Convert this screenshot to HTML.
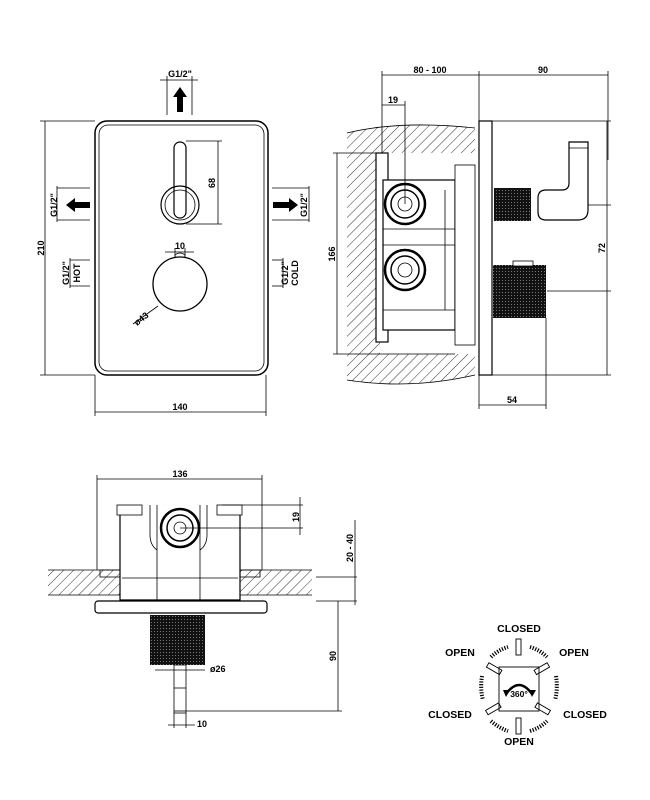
<!DOCTYPE html>
<html><head><meta charset="utf-8"><style>
html,body{margin:0;padding:0;background:#fff}
svg{display:block}
text{font-family:"Liberation Sans",sans-serif;font-weight:bold;fill:#000}
</style></head><body>
<svg width="650" height="800" viewBox="0 0 650 800" xmlns="http://www.w3.org/2000/svg">
<defs>
<pattern id="h" width="7" height="7" patternUnits="userSpaceOnUse" patternTransform="rotate(45)">
<line x1="0" y1="0" x2="0" y2="7" stroke="#000" stroke-width="0.8"/></pattern>
<pattern id="k" width="3" height="3" patternUnits="userSpaceOnUse">
<rect width="3" height="3" fill="#111"/><rect x="1" y="1" width="1" height="1" fill="#777"/></pattern>
</defs>
<g fill="none" stroke="#000" stroke-width="0.8">
<!-- FRONT VIEW -->
<rect x="95" y="121" width="173" height="254" rx="12" stroke-width="1.5"/>
<rect x="99" y="125" width="165" height="246" rx="9"/>
<!-- 210 -->
<line x1="45" y1="121" x2="45" y2="375"/><line x1="40" y1="121" x2="95" y2="121"/><line x1="40" y1="375" x2="95" y2="375"/>
<!-- 140 -->
<line x1="95" y1="412" x2="266" y2="412"/><line x1="95" y1="375" x2="95" y2="416"/><line x1="266" y1="375" x2="266" y2="416"/>
<!-- top G1/2 -->
<line x1="160" y1="80" x2="198" y2="80"/><line x1="167" y1="76" x2="167" y2="115"/><line x1="192" y1="76" x2="192" y2="115"/>
<!-- lever -->
<rect x="174" y="142" width="12" height="76" rx="6" stroke-width="1.2"/>
<circle cx="180" cy="205" r="19" stroke-width="1.2"/><circle cx="180" cy="205" r="15"/>
<line x1="186" y1="141" x2="222" y2="141"/><line x1="186" y1="224" x2="222" y2="224"/><line x1="218" y1="141" x2="218" y2="224"/>
<!-- knob -->
<circle cx="180" cy="284" r="27" stroke-width="1.3"/>
<path d="M175 258 V255 Q180 251 185 255 V258"/>
<line x1="165" y1="252" x2="194" y2="252"/><line x1="175" y1="248" x2="175" y2="258"/><line x1="185" y1="248" x2="185" y2="258"/>
<line x1="158" y1="306" x2="133" y2="324"/>
<!-- left G1/2 -->
<line x1="57" y1="188" x2="90" y2="188"/><line x1="57" y1="220" x2="90" y2="220"/><line x1="57" y1="186" x2="57" y2="222"/>
<line x1="70" y1="260" x2="90" y2="260"/><line x1="70" y1="286" x2="90" y2="286"/><line x1="70" y1="258" x2="70" y2="288"/>
<!-- right -->
<line x1="272" y1="188" x2="309" y2="188"/><line x1="272" y1="220" x2="309" y2="220"/><line x1="309" y1="186" x2="309" y2="222"/>
<line x1="272" y1="260" x2="283" y2="260"/><line x1="272" y1="286" x2="283" y2="286"/><line x1="283" y1="258" x2="283" y2="288"/>
</g>
<g fill="#000">
<polygon points="180,87 173,97 177,97 177,112 183,112 183,97 187,97"/>
<polygon points="66,205 75,198 75,202 90,202 90,208 75,208 75,212"/>
<polygon points="298,205 289,198 289,202 273,202 273,208 289,208 289,212"/>
</g>
<g font-size="9">
<text x="180" y="77" text-anchor="middle">G1/2"</text>
<text x="180" y="410" text-anchor="middle">140</text>
<text x="180" y="249" text-anchor="middle">10</text>
<text transform="translate(44,248) rotate(-90)" text-anchor="middle">210</text>
<text transform="translate(215,183) rotate(-90)" text-anchor="middle">68</text>
<text transform="translate(57,205) rotate(-90)" text-anchor="middle">G1/2"</text>
<text transform="translate(69,273) rotate(-90)" text-anchor="middle">G1/2"</text>
<text transform="translate(80,273) rotate(-90)" text-anchor="middle">HOT</text>
<text transform="translate(307,205) rotate(-90)" text-anchor="middle">G1/2"</text>
<text transform="translate(288,273) rotate(-90)" text-anchor="middle">G1/2"</text>
<text transform="translate(298,273) rotate(-90)" text-anchor="middle">COLD</text>
<text transform="translate(137,326) rotate(-38)">ø43</text>
</g>

<!-- SIDE VIEW -->
<path d="M347 133 Q400 120 475 128 L475 375 Q410 390 347 380 Z" fill="url(#h)" stroke="none"/>
<rect x="380" y="153" width="100" height="201" fill="#fff"/>
<g fill="none" stroke="#000" stroke-width="0.8">
<path d="M347 133 Q400 120 475 128" /><path d="M347 380 Q410 390 475 375"/>
<rect x="376" y="153" width="12" height="189" fill="#fff" stroke-width="1.2"/>
<rect x="383" y="180" width="72" height="150" fill="#fff" stroke-width="1.2"/>
<rect x="455" y="165" width="20" height="180" fill="#fff"/>
<line x1="445" y1="190" x2="445" y2="310"/><line x1="383" y1="229" x2="455" y2="229"/><line x1="383" y1="245" x2="455" y2="245"/>
<line x1="383" y1="310" x2="455" y2="310"/>
<circle cx="405" cy="204" r="20" stroke-width="2.5"/><circle cx="405" cy="204" r="14" stroke-width="1.5"/><circle cx="405" cy="204" r="7"/>
<circle cx="405" cy="270" r="20" stroke-width="2.5"/><circle cx="405" cy="270" r="14" stroke-width="1.5"/><circle cx="405" cy="270" r="7"/>
<rect x="479" y="121" width="13" height="254" stroke-width="1.2"/>
<path d="M569 142 H588 V210 Q588 220 578 220 H546 Q538 220 538 212 V198 Q538 190 546 190 H562 Q569 190 569 183 Z" stroke-width="1.2"/>
<line x1="569" y1="148" x2="588" y2="148"/>
<!-- dims -->
<line x1="382" y1="75" x2="479" y2="75"/><line x1="479" y1="75" x2="608" y2="75"/>
<line x1="382" y1="71" x2="382" y2="153"/><line x1="479" y1="71" x2="479" y2="121"/><line x1="608" y1="71" x2="608" y2="160"/>
<line x1="382" y1="105" x2="405" y2="105"/><line x1="405" y1="101" x2="405" y2="204"/>
<line x1="337" y1="153" x2="337" y2="354"/><line x1="333" y1="153" x2="376" y2="153"/><line x1="333" y1="354" x2="455" y2="354"/>
<line x1="607" y1="121" x2="607" y2="375"/><line x1="492" y1="121" x2="611" y2="121"/><line x1="492" y1="375" x2="611" y2="375"/>
<line x1="588" y1="205" x2="611" y2="205"/><line x1="547" y1="291" x2="611" y2="291"/>
<line x1="479" y1="405" x2="546" y2="405"/><line x1="479" y1="375" x2="479" y2="409"/><line x1="546" y1="318" x2="546" y2="409"/>
</g>
<rect x="494" y="188" width="37" height="33" fill="url(#k)"/>
<rect x="493" y="265" width="53" height="53" fill="url(#k)"/>
<rect x="513" y="261" width="20" height="5" fill="#fff" stroke="#000" stroke-width="0.8"/>
<g font-size="9">
<text x="430" y="73" text-anchor="middle">80 - 100</text>
<text x="543" y="73" text-anchor="middle">90</text>
<text x="393" y="103" text-anchor="middle">19</text>
<text x="512" y="403" text-anchor="middle">54</text>
<text transform="translate(335,254) rotate(-90)" text-anchor="middle">166</text>
<text transform="translate(605,248) rotate(-90)" text-anchor="middle">72</text>
</g>

<!-- BOTTOM VIEW -->
<rect x="48" y="570" width="75" height="25" fill="url(#h)"/>
<rect x="240" y="570" width="72" height="25" fill="url(#h)"/>
<g fill="none" stroke="#000" stroke-width="0.8">
<line x1="48" y1="570" x2="123" y2="570"/><line x1="48" y1="595" x2="123" y2="595"/>
<line x1="240" y1="570" x2="312" y2="570"/><line x1="240" y1="595" x2="312" y2="595"/>
<rect x="100" y="570" width="20" height="7"/><rect x="240" y="570" width="20" height="7"/>
<path d="M120 512 V600 H240 V512" fill="#fff" stroke-width="1.2"/>
<rect x="117" y="505" width="25" height="10" fill="#fff"/><rect x="217" y="505" width="25" height="10" fill="#fff"/>
<line x1="122" y1="578" x2="238" y2="578"/>
<line x1="157" y1="505" x2="157" y2="600"/><line x1="200" y1="505" x2="200" y2="600"/>
<path d="M150 505 V535 Q150 545 157 550"/><path d="M207 505 V535 Q207 545 200 550"/>
<circle cx="180" cy="528" r="19" stroke-width="2.5"/><circle cx="180" cy="528" r="13" stroke-width="1.5"/><circle cx="180" cy="528" r="6"/>
<rect x="95" y="601" width="172" height="12" rx="3" fill="#fff" stroke-width="1.2"/>
<path d="M172 665 Q172 660 165 655 M188 665 Q188 660 195 655"/>
<rect x="174" y="665" width="12" height="48" fill="#fff"/>
<line x1="174" y1="688" x2="186" y2="688"/><line x1="174" y1="711" x2="186" y2="711"/>
<!-- dims -->
<line x1="97" y1="479" x2="262" y2="479"/><line x1="97" y1="475" x2="97" y2="570"/><line x1="262" y1="475" x2="262" y2="570"/>
<line x1="222" y1="505" x2="303" y2="505"/><line x1="180" y1="528" x2="303" y2="528"/><line x1="300" y1="497" x2="300" y2="535"/>
<line x1="316" y1="577" x2="357" y2="577"/><line x1="316" y1="601" x2="357" y2="601"/><line x1="355" y1="520" x2="355" y2="605"/>
<line x1="338" y1="601" x2="338" y2="711"/><line x1="186" y1="711" x2="342" y2="711"/>
<line x1="155" y1="670" x2="205" y2="670"/>
<line x1="168" y1="725" x2="195" y2="725"/><line x1="174" y1="713" x2="174" y2="728"/><line x1="186" y1="713" x2="186" y2="728"/>
</g>
<rect x="150" y="615" width="55" height="50" fill="url(#k)"/>
<g font-size="9">
<text x="180" y="477" text-anchor="middle">136</text>
<text x="210" y="672">ø26</text>
<text x="197" y="727">10</text>
<text transform="translate(299,517) rotate(-90)" text-anchor="middle">19</text>
<text transform="translate(353,548) rotate(-90)" text-anchor="middle">20 - 40</text>
<text transform="translate(336,656) rotate(-90)" text-anchor="middle">90</text>
</g>

<!-- ROTATION DIAGRAM -->
<g fill="none" stroke="#000" stroke-width="0.9">
<rect x="499" y="667" width="40" height="44"/>
<rect x="516" y="639" width="5" height="16"/>
<rect x="516" y="718" width="5" height="16"/>
<rect x="540" y="661" width="5" height="15" transform="rotate(60 542 668)"/>
<rect x="491" y="661" width="5" height="15" transform="rotate(-60 494 668)"/>
<rect x="540" y="702" width="5" height="15" transform="rotate(-60 542 709)"/>
<rect x="491" y="702" width="5" height="15" transform="rotate(60 494 709)"/>
<path d="M506 694 Q519 676 532 694" stroke-width="2.5"/>
</g>
<g fill="none" stroke="#000" stroke-width="4" stroke-dasharray="1.2 1.5">
<path d="M491 657 Q498 650 508 647"/><path d="M530 647 Q540 650 547 657"/>
<path d="M482 676 Q480 689 483 700"/><path d="M556 676 Q558 689 555 700"/>
<path d="M491 721 Q499 728 508 731"/><path d="M530 731 Q540 728 547 721"/>
</g>
<g fill="#000"><polygon points="503,690 510,690 506,697"/><polygon points="529,690 536,690 532,697"/></g>
<g font-size="10.5">
<text x="519" y="632" text-anchor="middle">CLOSED</text>
<text x="460" y="656" text-anchor="middle">OPEN</text>
<text x="574" y="656" text-anchor="middle">OPEN</text>
<text x="450" y="718" text-anchor="middle">CLOSED</text>
<text x="585" y="718" text-anchor="middle">CLOSED</text>
<text x="519" y="745" text-anchor="middle">OPEN</text>
<text x="519" y="697" text-anchor="middle" font-size="8.5">360°</text>
</g>
</svg>
</body></html>
